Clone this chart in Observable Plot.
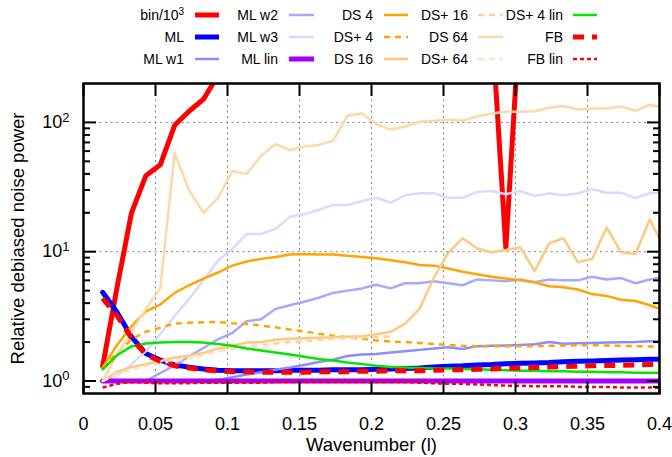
<!DOCTYPE html>
<html><head><meta charset="utf-8">
<script src="https://cdn.jsdelivr.net/npm/d3@7"></script>
<script src="https://cdn.jsdelivr.net/npm/@observablehq/plot@0.6"></script>
<style>
html,body{margin:0;padding:0;background:#fff;}
#chart{width:672px;height:457px;}
</style></head><body><div id="chart"></div>
<script>
// Wavenumber bins
const wavenumber = [0.0133,0.0233,0.0333,0.0433,0.0533,0.0633,0.0733,0.0833,0.0933,0.1033,
  0.1133,0.1233,0.1333,0.1433,0.1533,0.1633,0.1733,0.1833,0.1933,0.2033,
  0.2133,0.2233,0.2333,0.2433,0.2533,0.2633,0.2733,0.2833,0.2933,0.3033,
  0.3133,0.3233,0.3333,0.3433,0.3533,0.3633,0.3733,0.3833,0.3933,0.4033];

const binK = [1.3,5.3,19.9,38.7,47,95,122,151,230,310,380,450,520,600,650,700,760,800,850,900,
  950,1000,1000,1050,1000,950,900,650,10.7,750,900,1000,1050,1100,1100,1150,1200,1200,1250,1300];
const ml = [4.85,3.4,2.2,1.63,1.45,1.33,1.28,1.24,1.21,1.2,1.2,1.2,1.2,1.21,1.21,1.21,1.22,1.22,1.22,1.23,
  1.24,1.25,1.26,1.28,1.3,1.31,1.33,1.34,1.36,1.37,1.38,1.39,1.41,1.42,1.43,1.44,1.45,1.46,1.47,1.47];
const mlW1 = [0.99,0.99,0.99,0.99,0.99,0.99,1.0,1.0,1.02,1.07,1.12,1.17,1.22,1.27,1.33,1.4,1.46,1.56,1.6,1.62,
  1.66,1.7,1.74,1.78,1.82,1.77,1.86,1.87,1.88,1.9,1.92,2.0,1.94,1.96,1.97,1.98,1.99,2.0,2.03,2.03];
const mlW2 = [0.99,0.99,0.99,1.0,1.15,1.32,1.55,1.8,2.1,2.35,2.9,3.0,3.6,3.85,4.1,4.4,4.8,5.0,5.2,5.55,
  5.2,5.7,5.7,5.9,5.7,5.5,6.1,6.0,5.9,6.1,5.8,6.1,6.0,6.0,6.4,6.1,6.25,5.7,6.1,6.4];
const mlW3 = [0.99,1.1,1.35,1.7,2.3,3.2,4.3,6.0,8.5,10.5,13.7,13.7,15,18.6,19.5,21,23,23,24.6,26.1,
  24,27.3,28.3,28.3,26.1,26.1,29,29.5,27.8,29.5,27,28.3,27.3,28.3,30.4,28.6,28.6,26,28.3,29];
const mlLin = [1,1,1,1,1,1,1,1,1,1,1,1,1,1,1,1,1,1,1,1,1,1,1,1,1,1,1,1,1,1,1,1,1,1,1,1,1,1,1,1];
const ds4 = [1.27,1.9,2.65,3.45,3.9,4.8,5.5,6.2,6.9,7.8,8.4,8.8,9.1,9.5,9.6,9.5,9.5,9.3,9.1,8.9,
  8.6,8.3,7.9,7.8,7.4,7.0,6.7,6.4,6.2,6.0,5.8,5.4,5.3,5.1,4.7,4.55,4.25,4.15,3.85,3.5];
const dsp4 = [1.27,1.65,2.1,2.4,2.58,2.78,2.82,2.85,2.86,2.8,2.76,2.68,2.6,2.5,2.42,2.32,2.24,2.18,2.12,2.06,
  2.02,2.0,1.97,1.93,1.9,1.87,1.86,1.86,1.86,1.86,1.86,1.87,1.88,1.89,1.89,1.88,1.87,1.86,1.85,1.83];
const ds16 = [1.0,1.18,1.28,1.35,1.42,1.52,1.57,1.65,1.78,1.87,1.98,2.0,2.08,2.12,2.14,2.16,2.18,2.2,2.22,2.3,
  2.4,2.78,3.6,6.3,9.8,12.7,10.6,9.9,10.3,10.8,7.1,11.6,12.7,8.3,8.8,15.4,9.9,9.6,17.8,10.5];
const dsp16 = [1.0,1.15,1.25,1.32,1.38,1.45,1.52,1.6,1.7,1.8,1.86,1.88,1.95,2.0,2.03,2.08,2.12,2.15,2.17,2.19,2.2];
const ds64 = [1.0,1.6,2.4,3.6,5.2,58,30,20,26,42,40,55,68,61,65,67,72,113,117,97,
  88,93,101,103,105,103,111,117,121,121,122,130,134,126,128,128,133,123,137,130];
const dsp64 = [1.0,1.12,1.22,1.3,1.36,1.44,1.5,1.58,1.68,1.76,1.82,1.85,1.9];
const dsp4Lin = [1.23,1.58,1.85,1.95,1.98,2.0,2.0,1.98,1.93,1.87,1.78,1.72,1.66,1.6,1.54,1.48,1.44,1.39,1.35,1.31,
  1.28,1.27,1.26,1.25,1.25,1.24,1.23,1.22,1.21,1.2,1.2,1.19,1.19,1.18,1.18,1.17,1.17,1.16,1.16,1.16];
const fb = [4.35,3.2,2.15,1.6,1.42,1.31,1.26,1.22,1.2,1.18,1.18,1.17,1.17,1.17,1.17,1.18,1.18,1.18,1.19,1.19,
  1.2,1.2,1.2,1.21,1.22,1.22,1.23,1.24,1.25,1.26,1.27,1.28,1.29,1.3,1.31,1.32,1.32,1.33,1.34,1.34];
const fbLin = [0.89,0.95,0.98,0.97,0.96,0.96,0.96,0.97,0.97,0.97,0.97,0.97,0.98,0.98,0.98,0.98,0.98,0.98,0.98,0.98,
  0.98,0.98,0.97,0.96,0.95,0.95,0.94,0.93,0.92,0.92,0.91,0.91,0.91,0.9,0.9,0.9,0.89,0.89,0.89,0.885];

const seriesNames = ["bin/10^3","ML","ML w1","ML w2","ML w3","ML lin","DS 4","DS+ 4","DS 16","DS+ 16","DS 64","DS+ 64","DS+ 4 lin","FB","FB lin"];
const seriesValues = [binK, ml, mlW1, mlW2, mlW3, mlLin, ds4, dsp4, ds16, dsp16, ds64, dsp64, dsp4Lin, fb, fbLin];
const seriesColors = ["#ff0000","#0000ff","#8c8cff","#a8a8ff","#dadaff","#a000ff","#ffa500","#ffa500","#ffc880","#ffd09a","#ffd8a8","#ffe4c8","#00e600","#ff0000","#ff0000"];
const seriesWidths = [5,5,2.5,2.5,2.5,5,2.5,2.5,2.5,2.5,2.5,2.5,2.5,5,2.5];
const seriesDash = [null,null,null,null,null,null,null,"6,5",null,"6,5",null,"6,5",null,"11,8","4,3"];

const xTicks = [0,0.05,0.1,0.15,0.2,0.25,0.3,0.35,0.4];
const yMajor = [1,10,100];
const yMinor = [0.9,2,3,4,5,6,7,8,9,20,30,40,50,60,70,80,90];
const xTitle = "Wavenumber (l)";
const yTitle = "Relative debiased noise power";

const FONT = "'Liberation Sans', Arial, Helvetica, sans-serif";

const lineMarks = seriesValues.map((vals, k) => Plot.line(
  vals.map((v, i) => ({x: wavenumber[i], y: v})),
  {x: "x", y: "y", stroke: seriesColors[k], strokeWidth: seriesWidths[k],
   strokeDasharray: seriesDash[k], strokeLinecap: seriesDash[k] ? "butt" : "round", clip: true}
));

const gridStyle = {stroke: "#808080", strokeOpacity: 1, strokeWidth: 1, strokeDasharray: "2,3.5"};
const tickStyle = {tickFormat: () => "", strokeWidth: 2, label: null};

const chart = Plot.plot({
  width: 672, height: 457,
  marginLeft: 83, marginRight: 13, marginTop: 83, marginBottom: 64,
  x: {domain: [0, 0.4]},
  y: {type: "log", domain: [0.8, 200]},
  style: {fontFamily: FONT, fontSize: "18px", background: "#fff", color: "#000"},
  marks: [
    Plot.gridX(xTicks.filter(d => d > 0 && d < 0.4), gridStyle),
    Plot.gridY(yMajor, gridStyle),
    ...lineMarks,
    Plot.frame({stroke: "#000", strokeWidth: 2.5}),
    Plot.axisX(xTicks, {anchor: "bottom", tickSize: -12, ...tickStyle}),
    Plot.axisX(xTicks, {anchor: "top", tickSize: -12, ...tickStyle}),
    Plot.axisY(yMajor, {anchor: "left", tickSize: -13, ...tickStyle}),
    Plot.axisY(yMajor, {anchor: "right", tickSize: -13, ...tickStyle}),
    Plot.axisY(yMinor, {anchor: "left", tickSize: -7, ...tickStyle}),
    Plot.axisY(yMinor, {anchor: "right", tickSize: -7, ...tickStyle}),
    Plot.axisX(xTicks, {anchor: "bottom", tickSize: 0, tickPadding: 24, label: null, fontSize: 18,
      tickFormat: d => d === 0 ? "0" : String(+d.toFixed(2))}),
    Plot.axisY(yMajor, {anchor: "left", tickSize: 0, tickPadding: 14, label: null, fontSize: 18,
      tickFormat: d => "10^" + Math.round(Math.log10(d))}),
    Plot.text([xTitle], {frameAnchor: "bottom", dy: 52, lineAnchor: "middle", textAnchor: "middle", fontSize: 18.5}),
    Plot.text([yTitle], {frameAnchor: "left", dx: -65, rotate: -90, lineAnchor: "middle", textAnchor: "middle", fontSize: 18.5})
  ]
});
document.getElementById("chart").appendChild(chart);

const NS = "http://www.w3.org/2000/svg";
// superscripts for 10^k labels
chart.querySelectorAll("text").forEach(t => {
  const m = /^10\^(\d+)$/.exec(t.textContent);
  if (m) {
    t.textContent = "";
    const a = document.createElementNS(NS, "tspan"); a.textContent = "10"; t.appendChild(a);
    const b = document.createElementNS(NS, "tspan"); b.textContent = m[1];
    b.setAttribute("dy", "-0.5em"); b.setAttribute("font-size", "13"); t.appendChild(b);
  }
});

// legend (gnuplot-style: text right-aligned, then sample)
const legendCols = [
  {tx: 184, x1: 195, x2: 219},
  {tx: 278, x1: 289, x2: 314},
  {tx: 373, x1: 384, x2: 408},
  {tx: 468, x1: 478, x2: 503},
  {tx: 563, x1: 573, x2: 597}
];
const legendRows = [15, 37, 59];
const lg = d3.select(chart).append("g").attr("font-family", FONT).attr("font-size", 14);
seriesNames.forEach((name, k) => {
  const c = legendCols[Math.floor(k / 3)], y = legendRows[k % 3];
  const t = lg.append("text").attr("x", c.tx).attr("y", y).attr("dy", "0.35em")
    .attr("text-anchor", "end").attr("fill", "#000");
  const m = /^(.*)\^(\d+)$/.exec(name);
  if (m) {
    t.append("tspan").text(m[1]);
    t.append("tspan").attr("dy", "-0.5em").attr("font-size", 10).text(m[2]);
  } else t.text(name);
  lg.append("line").attr("x1", c.x1).attr("x2", c.x2).attr("y1", y).attr("y2", y)
    .attr("stroke", seriesColors[k]).attr("stroke-width", seriesWidths[k])
    .attr("stroke-dasharray", seriesDash[k]).attr("stroke-linecap", "butt");
});
</script></body></html>
